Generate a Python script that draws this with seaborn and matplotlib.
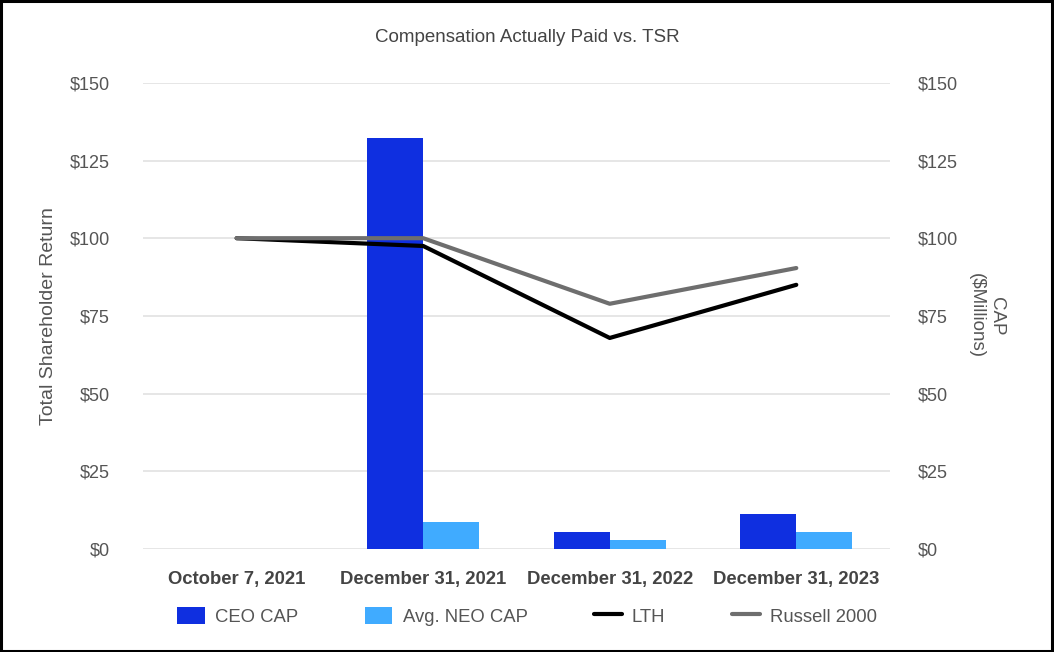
import numpy as np
import pandas as pd
import matplotlib
matplotlib.use("Agg")
import matplotlib.pyplot as plt
from matplotlib.patches import Patch, Rectangle
from matplotlib.lines import Line2D
import seaborn as sns

# ---- data ----
dates = ["October 7, 2021", "December 31, 2021", "December 31, 2022", "December 31, 2023"]
ceo_cap = [np.nan, 132.3, 5.6, 11.3]
neo_cap = [np.nan, 8.7, 3.0, 5.5]
lth_tsr = [100.0, 97.5, 67.9, 85.0]
russell_tsr = [100.0, 100.0, 78.9, 90.4]
y_ticks = [0, 25, 50, 75, 100, 125, 150]

CEO_C = "#0f2fe0"
NEO_C = "#40abff"
LTH_C = "#000000"
RUS_C = "#6e6e6e"
TXT_C = "#555555"

sns.set_theme(style="white")
plt.rcParams["font.family"] = ["Liberation Sans", "DejaVu Sans"]

bars = pd.DataFrame({
    "date": dates * 2,
    "series": ["CEO CAP"] * len(dates) + ["Avg. NEO CAP"] * len(dates),
    "value": ceo_cap + neo_cap,
})
lines = pd.DataFrame({
    "pos": list(range(len(dates))) * 2,
    "series": ["LTH"] * len(dates) + ["Russell 2000"] * len(dates),
    "value": lth_tsr + russell_tsr,
})

fig = plt.figure(figsize=(10.54, 6.52), dpi=100)
ax = fig.add_axes([0.136, 0.158, 0.708, 0.715])

sns.barplot(data=bars, x="date", y="value", hue="series", order=dates,
            hue_order=["CEO CAP", "Avg. NEO CAP"],
            palette=[CEO_C, NEO_C], width=0.6, saturation=1, ax=ax,
            legend=False, zorder=2, linewidth=0, edgecolor="none")
sns.lineplot(data=lines, x="pos", y="value", hue="series",
             palette=[LTH_C, RUS_C], linewidth=3, ax=ax, legend=False,
             zorder=3)

ax.set_xlim(-0.5, len(dates) - 0.5)
ax.set_ylim(0, 150)
ax.set_yticks(y_ticks)
ax.set_yticklabels([f"${v}" for v in y_ticks])
ax.set_xticks(range(len(dates)))
ax.set_xticklabels(dates, fontsize=13.3, fontweight="bold", color="#444444")
ax.tick_params(axis="y", length=0, pad=24, labelsize=13, labelcolor=TXT_C)
ax.tick_params(axis="x", length=0, pad=16)
ax.grid(axis="y", color="#e2e2e2", linewidth=1.2, zorder=0)
ax.set_axisbelow(True)
for s in ax.spines.values():
    s.set_visible(False)
ax.set_xlabel("")
ax.set_ylabel("Total Shareholder Return", fontsize=14, color=TXT_C, labelpad=9)

ax2 = ax.twinx()
ax2.set_ylim(0, 150)
ax2.set_yticks(y_ticks)
ax2.set_yticklabels([f"${v}" for v in y_ticks])
ax2.tick_params(axis="y", length=0, pad=20, labelsize=13, labelcolor=TXT_C)
for s in ax2.spines.values():
    s.set_visible(False)
ax2.set_ylabel("CAP\n($Millions)", fontsize=13.5, color=TXT_C, rotation=270,
               labelpad=34)

fig.text(0.5, 0.942, "Compensation Actually Paid vs. TSR", ha="center",
         va="center", fontsize=13.5, color="#444444")

handles = [
    Patch(facecolor=CEO_C, edgecolor="none", label="CEO CAP"),
    Patch(facecolor=NEO_C, edgecolor="none", label="Avg. NEO CAP"),
    Line2D([], [], color=LTH_C, linewidth=3, label="LTH"),
    Line2D([], [], color=RUS_C, linewidth=3, label="Russell 2000"),
]
leg = fig.legend(handles=handles, loc="center", bbox_to_anchor=(0.5, 0.055),
                 ncol=4, frameon=False, fontsize=13.3, handlelength=1.5,
                 handleheight=1.1, handletextpad=0.55, columnspacing=3.6,
                 labelcolor=TXT_C)

fig.patches.append(Rectangle((0.001, 0.002), 0.997, 0.996, transform=fig.transFigure,
                             fill=False, edgecolor="black", linewidth=2.2))

fig.savefig("out.png", dpi=100)
